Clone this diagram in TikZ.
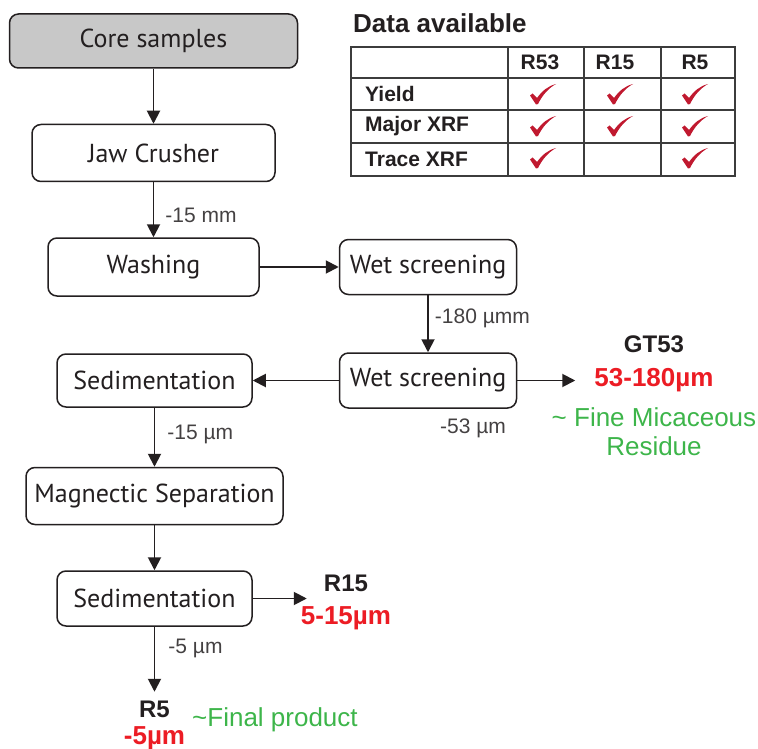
\documentclass[tikz,border=0pt]{standalone}
\usepackage{fontspec}
\setmainfont{Liberation Sans}
\newfontfamily\boxfont{PT Sans}
\usepackage{xcolor}
\usetikzlibrary{arrows.meta, positioning}
\definecolor{inkdark}{HTML}{231F20}
\definecolor{coregrey}{HTML}{C8C8C8}
\definecolor{tickred}{HTML}{C0192F}
\definecolor{sizered}{HTML}{EC1C24}
\definecolor{notegreen}{HTML}{3DB54A}
\definecolor{gridgrey}{HTML}{3C3C3C}

\begin{document}
\begin{tikzpicture}[x=1pt,y=-1pt,
  node distance=55pt and 79pt,
  box/.style={rectangle,rounded corners=9pt,draw=inkdark,line width=1.5pt,fill=white,
    text=inkdark,font=\boxfont\fontsize{26}{30}\selectfont,inner sep=0pt},
  arr/.style={-{Triangle[length=13pt,width=13pt]},line width=1.9pt,color=inkdark},
  lbl/.style={font=\fontsize{21}{24}\selectfont,text=inkdark!85,inner sep=2pt},
  prod/.style={font=\bfseries\fontsize{24}{28}\selectfont,text=inkdark,inner sep=1pt},
  size/.style={font=\bfseries\fontsize{26}{28}\selectfont,text=sizered,inner sep=1pt},
  note/.style={font=\fontsize{26}{29}\selectfont,text=notegreen,inner sep=1pt,align=center},
  cell/.style={font=\bfseries\fontsize{21}{24}\selectfont,text=inkdark,inner sep=0pt},
  checkmark/.pic={\fill[tickred] (-13,1.5) -- (-10.5,-0.5) -- (-6,4)
    .. controls (-1,-3) and (5,-8) .. (13,-10)
    .. controls (6,-6) and (0,0) .. (-5,10) -- (-7,10.5) -- cycle;}]
  \useasboundingbox (0,0) rectangle (758,749);

  % process chain
  \node[box,fill=coregrey,minimum width=288pt,minimum height=54pt] (core) at (153.5,41) {Core samples};
  \node[box,minimum width=243pt,minimum height=57pt,below=of core]  (jaw)  {Jaw Crusher};
  \node[box,minimum width=211pt,minimum height=58pt,below=of jaw]   (wash) {Washing};
  \node[box,minimum width=177pt,minimum height=55pt,right=of wash]  (ws1)  {Wet screening};
  \node[box,minimum width=177pt,minimum height=55pt,below=57pt of ws1] (ws2) {Wet screening};
  \node[box,minimum width=195pt,minimum height=53pt,left=86pt of ws2]  (sed1) {Sedimentation};
  \node[box,minimum width=257pt,minimum height=57pt,below=59pt of sed1] (mag) {Magnectic Separation};
  \node[box,minimum width=195pt,minimum height=55pt,below=45pt of mag]  (sed2) {Sedimentation};

  % products
  \node[size,right=76pt of ws2]      (gtsize) {53-180µm};
  \node[prod,above=14pt of gtsize]   (gtname) {GT53};
  \node[note,below=13pt of gtsize]   (gtnote) {\textasciitilde{} Fine Micaceous\\Residue};
  \node[prod,right=70pt of sed2,yshift=15pt] (r15name) {R15};
  \node[size,below=12pt of r15name]  (r15size) {5-15µm};
  \node[prod,below=73pt of sed2]     (r5name) {R5};
  \node[size,below=7pt of r5name]    (r5size) {-5µm};
  \node[note,right=20pt of r5name,yshift=-10pt] (r5note) {\textasciitilde Final product};
  \node[lbl] (cut53) at (473,428) {-53 µm};

  \draw[arr](core)--(jaw);
  \draw[arr](jaw)--(wash) node[lbl,pos=0.6,anchor=west,xshift=9pt] (cut15mm) {-15 mm};
  \draw[arr](wash)--(ws1);
  \draw[arr](ws1)--(ws2) node[lbl,pos=0.4,anchor=west,xshift=4pt] (cut180) {-180 µmm};
  \draw[arr](ws2)--(sed1);
  \draw[arr,shorten >=18pt](ws2)--(gtsize);
  \draw[arr](sed1)--(mag) node[lbl,pos=0.45,anchor=west,xshift=10pt] (cut15um) {-15 µm};
  \draw[arr](mag)--(sed2);
  \draw[arr,shorten >=16pt](sed2)--(sed2 -| r15name.west);
  \draw[arr,shorten >=8pt](sed2)--(r5name) node[lbl,pos=0.3,anchor=west,xshift=11pt] (cut5um) {-5 µm};

  % data table
  \node[anchor=west,inner sep=0pt,font=\bfseries\fontsize{26}{30}\selectfont,text=inkdark] (title) at (353,23) {Data available};
  \draw[gridgrey,line width=1.3pt] (351,47) rectangle (735,176);
  \foreach \y in {78,110,143} \draw[gridgrey,line width=1.2pt] (351,\y) -- (735,\y);
  \foreach \x in {508,584,661} \draw[gridgrey,line width=1.3pt] (\x,47) -- (\x,176);
  \node[cell] (hR53) at (540,62) {R53};
  \node[cell] (hR15) at (615,62) {R15};
  \node[cell] (hR5)  at (695,62) {R5};
  \node[cell,anchor=west] (yield) at (365,94)  {Yield};
  \node[cell,anchor=west] (major) at (365,126) {Major XRF};
  \node[cell,anchor=west] (trace) at (365,159) {Trace XRF};
  \foreach \x/\y in {543/94,620/94,695/94,543/126,620/126,695/126,543/158,695/158}
    \pic at (\x,\y) {checkmark};
\end{tikzpicture}
\end{document}
